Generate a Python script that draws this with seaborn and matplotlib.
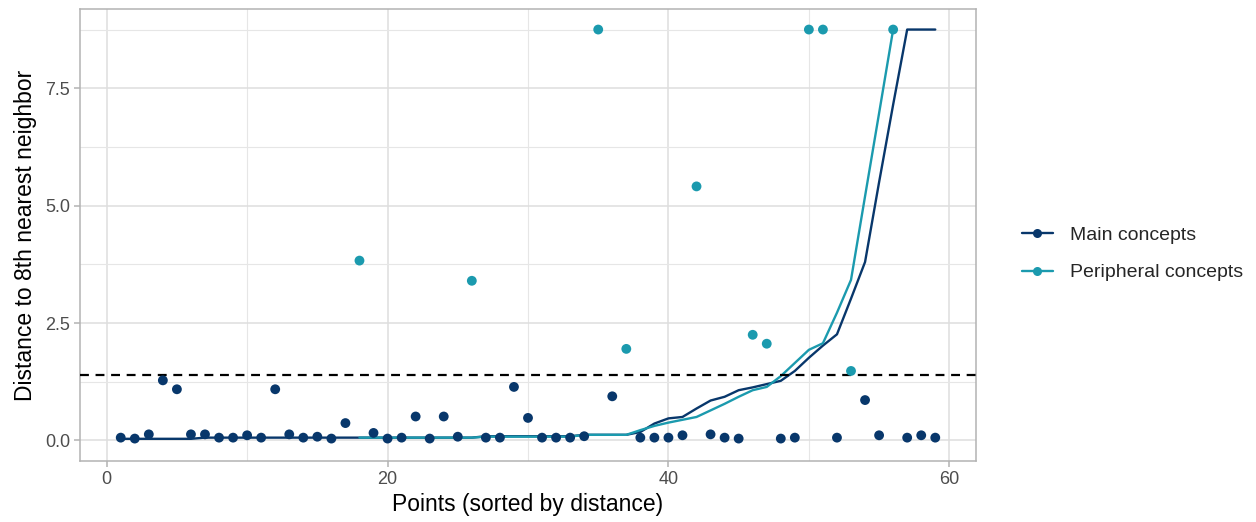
import matplotlib
matplotlib.use("Agg")
import matplotlib.pyplot as plt
from matplotlib.lines import Line2D
from matplotlib.ticker import MultipleLocator
import numpy as np
import pandas as pd
import seaborn as sns

# points: distance to 8th nearest neighbor for each point
main_x = list(range(1, 18)) + list(range(19, 26)) + list(range(27, 35)) + [36, 38, 39, 40, 41, 43, 44, 45, 48, 49, 52, 54, 55, 57, 58, 59]
main_y = [0.06, 0.04, 0.13, 1.28, 1.09, 0.13, 0.13, 0.06, 0.06, 0.11, 0.06, 1.09, 0.13, 0.06, 0.08, 0.04, 0.37,
          0.16, 0.04, 0.06, 0.51, 0.04, 0.51, 0.08,
          0.06, 0.06, 1.14, 0.48, 0.06, 0.06, 0.06, 0.09,
          0.94, 0.06, 0.06, 0.06, 0.11, 0.13, 0.06, 0.04, 0.04, 0.06, 0.06, 0.86, 0.11, 0.06, 0.11, 0.06]
peri_x = [18, 26, 35, 37, 42, 46, 47, 50, 51, 53, 56]
peri_y = [3.83, 3.40, 8.75, 1.95, 5.41, 2.25, 2.06, 8.75, 8.75, 1.48, 8.75]

# sorted distance curves
main_line_x = list(range(1, 60))
main_line_y = [0.035] * 6 + [0.06] * 20 + [0.09] * 7 + [0.12] * 4 + \
              [0.18, 0.36, 0.47, 0.50, 0.68, 0.85, 0.93, 1.07, 1.13, 1.20, 1.27, 1.48, 1.76, 2.02, 2.26,
               3.02, 3.80, 5.50, 7.15, 8.75, 8.75, 8.75]
peri_line_x = list(range(18, 57))
peri_line_y = [0.06] * 9 + [0.08] * 7 + [0.12] * 4 + \
              [0.22, 0.31, 0.38, 0.44, 0.50, 0.64, 0.78, 0.93, 1.07, 1.14, 1.37, 1.65, 1.93, 2.07, 2.72,
               3.42, 5.20, 6.97, 8.75]
eps = 1.40

groups = ["Main concepts", "Peripheral concepts"]
colors = {"Main concepts": "#08376b", "Peripheral concepts": "#1b9aae"}

pts = pd.DataFrame({"x": main_x + peri_x, "y": main_y + peri_y,
                    "group": [groups[0]] * len(main_x) + [groups[1]] * len(peri_x)})
lines = pd.DataFrame({"x": main_line_x + peri_line_x, "y": main_line_y + peri_line_y,
                      "group": [groups[0]] * len(main_line_x) + [groups[1]] * len(peri_line_x)})

sns.set_theme(style="whitegrid")
plt.rcParams["font.family"] = ["Liberation Sans", "DejaVu Sans"]

fig = plt.figure(figsize=(12.56, 5.22), dpi=100)
ax = fig.add_axes([80 / 1256, 1 - 461 / 522, (976 - 80) / 1256, (461 - 9) / 522])

sns.lineplot(data=lines, x="x", y="y", hue="group", palette=colors, linewidth=1.7, ax=ax, legend=False, zorder=3)
ax.axhline(eps, color="black", linestyle=(0, (4, 3)), linewidth=1.6, zorder=4)
sns.scatterplot(data=pts, x="x", y="y", hue="group", palette=colors, s=50, edgecolor="none", ax=ax, legend=False, zorder=5)

ax.set_xlim(-1.9, 61.9)
ax.set_ylim(-0.4375, 9.1875)
ax.xaxis.set_major_locator(MultipleLocator(20))
ax.xaxis.set_minor_locator(MultipleLocator(10))
ax.yaxis.set_major_locator(MultipleLocator(2.5))
ax.yaxis.set_minor_locator(MultipleLocator(1.25))
ax.set_yticklabels([f"{v:.1f}" for v in ax.get_yticks()])

ax.set_facecolor("white")
ax.grid(True, which="major", color="#dedede", linewidth=1.1)
ax.grid(True, which="minor", color="#e6e6e6", linewidth=0.8)
for s in ax.spines.values():
    s.set_color("#b3b3b3")
    s.set_linewidth(1.1)
ax.tick_params(which="major", length=4, width=1.1, color="#b3b3b3", labelsize=13, labelcolor="#4d4d4d", pad=3)
ax.tick_params(which="minor", length=0)
ax.tick_params(axis="both", which="major", bottom=True, left=True)

ax.set_xlabel("Points (sorted by distance)", fontsize=16.5, color="black", labelpad=4)
ax.set_ylabel("Distance to 8th nearest neighbor", fontsize=16.5, color="black", labelpad=6)

handles = [Line2D([0], [0], color=colors[g], linewidth=1.7, marker="o", markersize=6.5, markeredgewidth=0) for g in groups]
fig.legend(handles, groups, loc="center left", bbox_to_anchor=(1012 / 1256, 1 - 254 / 522), frameon=False,
           fontsize=14, handlelength=1.6, handletextpad=0.9, labelspacing=1.0, borderpad=0)

fig.savefig("out.png", dpi=100, facecolor="white")
